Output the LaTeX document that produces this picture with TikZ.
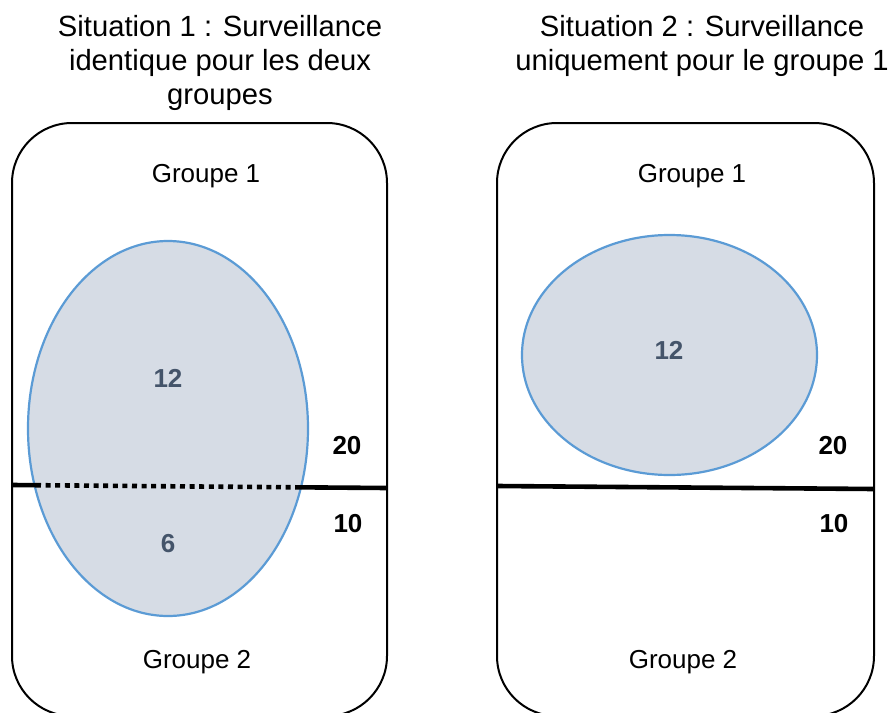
\documentclass[tikz,border=0pt]{standalone}
\usepackage{fontspec}
\setmainfont{Liberation Sans}
\definecolor{zonefill}{HTML}{D6DCE5}
\definecolor{zoneline}{HTML}{5B9BD5}
\definecolor{comptetxt}{HTML}{44546A}

\tikzset{
  groupbox/.style={draw, line width=1pt, rounded corners=30pt},
  zone/.style={draw=zoneline, fill=zonefill, line width=1.1pt},
  seuil/.style={line width=2.3pt},
  pointille/.style={line width=2.3pt, dash pattern=on 2.5pt off 2.3pt},
  compte/.style={font=\fontsize{13}{15}\selectfont\bfseries, text=comptetxt},
  effectif/.style={font=\fontsize{13}{15}\selectfont\bfseries},
  titre/.style={font=\fontsize{14.6}{16.9}\selectfont}
}

\begin{document}
\begin{tikzpicture}[x=0.5pt, y=-0.5pt, font=\fontsize{13}{15}\selectfont, every node/.style={align=center}]
        \clip (0,0) rectangle (891,713);

        % situation 1
        \node[titre] (titre1) at (220,63) {Situation 1 : Surveillance\\identique pour les deux\\groupes};
        \draw[groupbox] (12,123) rectangle (387,716);
        \draw[zone] (168,428.5) ellipse (140 and 187.5);
        \coordinate (g1) at (12,485);
        \coordinate (e1) at (36,485.2);
        \coordinate (e2) at (296,487.3);
        \coordinate (d1) at (387,488);
        \draw[seuil] (g1) -- (e1);
        \draw[pointille] (e1) -- (e2);
        \draw[seuil] (e2) -- (d1);
        \node (grp1a) at (206,176) {Groupe 1};
        \node (grp2a) at (197,662) {Groupe 2};
        \node[compte] (n12a) at (168,378) {12};
        \node[compte] (n6a) at (168,544) {6};
        \node[effectif] (n20a) at (347,446) {20};
        \node[effectif] (n10a) at (348,524) {10};

        % situation 2
        \node[titre] (titre2) at (702,46) {Situation 2 : Surveillance\\uniquement pour le groupe 1};
        \draw[groupbox] (497,123) rectangle (874,716);
        \draw[zone] (669.5,355) ellipse (147.5 and 120);
        \coordinate (g2) at (497,486);
        \coordinate (d2) at (874,489);
        \draw[seuil] (g2) -- (d2);
        \node (grp1b) at (692,176) {Groupe 1};
        \node (grp2b) at (683,662) {Groupe 2};
        \node[compte] (n12b) at (669,350) {12};
        \node[effectif] (n20b) at (833,446) {20};
        \node[effectif] (n10b) at (834,524) {10};
    \end{tikzpicture}
\end{document}
